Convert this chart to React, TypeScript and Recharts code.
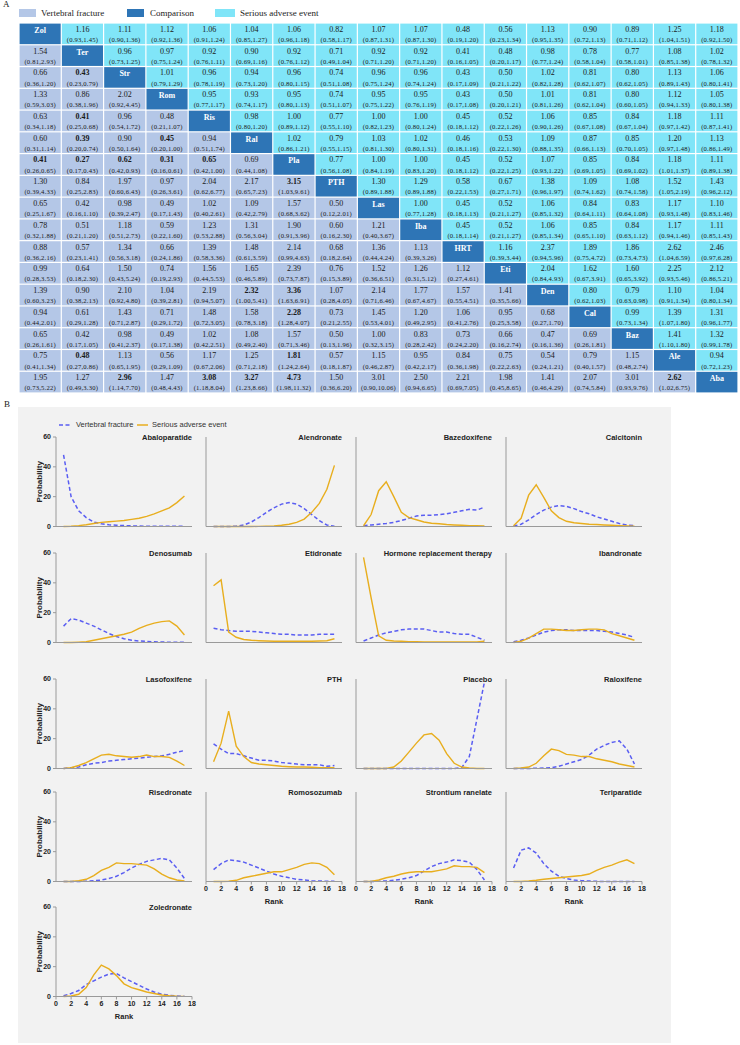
import { LineChart, Line, XAxis, YAxis, ScatterChart, Scatter } from 'recharts';

// ---------- A: league table ----------
const abbrevs = ['Zol', 'Ter', 'Str', 'Rom', 'Ris', 'Ral', 'Pla', 'PTH', 'Las', 'Iba', 'HRT', 'Eti', 'Den', 'Cal', 'Baz', 'Ale', 'Aba'];

const rowZol = ['', '1.16 (0.93,1.45)', '1.11 (0.90,1.36)', '1.12 (0.92,1.36)', '1.06 (0.91,1.24)', '1.04 (0.85,1.27)', '1.06 (0.96,1.18)', '0.82 (0.58,1.17)', '1.07 (0.87,1.31)', '1.07 (0.87,1.30)', '0.48 (0.19,1.20)', '0.56 (0.23,1.34)', '1.13 (0.95,1.35)', '0.90 (0.72,1.13)', '0.89 (0.71,1.12)', '1.25 (1.04,1.51)', '1.18 (0.92,1.50)'];
const rowTer = ['1.54 (0.81,2.93)', '', '0.96 (0.73,1.25)', '0.97 (0.75,1.24)', '0.92 (0.76,1.11)', '0.90 (0.69,1.16)', '0.92 (0.76,1.12)', '0.71 (0.49,1.04)', '0.92 (0.71,1.20)', '0.92 (0.71,1.20)', '0.41 (0.16,1.05)', '0.48 (0.20,1.17)', '0.98 (0.77,1.24)', '0.78 (0.58,1.04)', '0.77 (0.58,1.01)', '1.08 (0.85,1.38)', '1.02 (0.78,1.32)'];
const rowStr = ['0.66 (0.36,1.20)', '0.43 (0.23,0.79)', '', '1.01 (0.79,1.29)', '0.96 (0.78,1.19)', '0.94 (0.73,1.20)', '0.96 (0.80,1.15)', '0.74 (0.51,1.08)', '0.96 (0.75,1.24)', '0.96 (0.74,1.24)', '0.43 (0.17,1.09)', '0.50 (0.21,1.22)', '1.02 (0.82,1.28)', '0.81 (0.62,1.07)', '0.80 (0.62,1.05)', '1.13 (0.89,1.43)', '1.06 (0.80,1.41)'];
const rowRom = ['1.33 (0.59,3.03)', '0.86 (0.38,1.96)', '2.02 (0.92,4.45)', '', '0.95 (0.77,1.17)', '0.93 (0.74,1.17)', '0.95 (0.80,1.13)', '0.74 (0.51,1.07)', '0.95 (0.75,1.22)', '0.95 (0.76,1.19)', '0.43 (0.17,1.08)', '0.50 (0.20,1.21)', '1.01 (0.81,1.26)', '0.81 (0.62,1.04)', '0.80 (0.60,1.05)', '1.12 (0.94,1.33)', '1.05 (0.80,1.38)'];
const rowRis = ['0.63 (0.34,1.18)', '0.41 (0.25,0.68)', '0.96 (0.54,1.72)', '0.48 (0.21,1.07)', '', '0.98 (0.80,1.20)', '1.00 (0.89,1.12)', '0.77 (0.55,1.10)', '1.00 (0.82,1.23)', '1.00 (0.80,1.24)', '0.45 (0.18,1.12)', '0.52 (0.22,1.26)', '1.06 (0.90,1.26)', '0.85 (0.67,1.08)', '0.84 (0.67,1.04)', '1.18 (0.97,1.42)', '1.11 (0.87,1.41)'];
const rowRal = ['0.60 (0.31,1.14)', '0.39 (0.20,0.74)', '0.90 (0.50,1.64)', '0.45 (0.20,1.00)', '0.94 (0.51,1.74)', '', '1.02 (0.86,1.21)', '0.79 (0.55,1.15)', '1.03 (0.81,1.30)', '1.02 (0.80,1.31)', '0.46 (0.18,1.16)', '0.53 (0.22,1.30)', '1.09 (0.88,1.35)', '0.87 (0.66,1.13)', '0.85 (0.70,1.05)', '1.20 (0.97,1.48)', '1.13 (0.86,1.49)'];
const rowPla = ['0.41 (0.26,0.65)', '0.27 (0.17,0.43)', '0.62 (0.42,0.93)', '0.31 (0.16,0.61)', '0.65 (0.42,1.00)', '0.69 (0.44,1.08)', '', '0.77 (0.56,1.08)', '1.00 (0.84,1.19)', '1.00 (0.83,1.20)', '0.45 (0.18,1.12)', '0.52 (0.22,1.25)', '1.07 (0.93,1.22)', '0.85 (0.69,1.05)', '0.84 (0.69,1.02)', '1.18 (1.01,1.37)', '1.11 (0.89,1.38)'];
const rowPTH = ['1.30 (0.39,4.33)', '0.84 (0.25,2.83)', '1.97 (0.60,6.43)', '0.97 (0.26,3.61)', '2.04 (0.62,6.77)', '2.17 (0.65,7.23)', '3.15 (1.03,9.61)', '', '1.30 (0.89,1.88)', '1.29 (0.89,1.88)', '0.58 (0.22,1.53)', '0.67 (0.27,1.71)', '1.38 (0.96,1.97)', '1.09 (0.74,1.62)', '1.08 (0.74,1.58)', '1.52 (1.05,2.19)', '1.43 (0.96,2.12)'];
const rowLas = ['0.65 (0.25,1.67)', '0.42 (0.16,1.10)', '0.98 (0.39,2.47)', '0.49 (0.17,1.43)', '1.02 (0.40,2.61)', '1.09 (0.42,2.79)', '1.57 (0.68,3.62)', '0.50 (0.12,2.01)', '', '1.00 (0.77,1.28)', '0.45 (0.18,1.13)', '0.52 (0.21,1.27)', '1.06 (0.85,1.32)', '0.84 (0.64,1.11)', '0.83 (0.64,1.08)', '1.17 (0.93,1.48)', '1.10 (0.83,1.46)'];
const rowIba = ['0.78 (0.32,1.88)', '0.51 (0.21,1.20)', '1.18 (0.51,2.73)', '0.59 (0.22,1.60)', '1.23 (0.53,2.88)', '1.31 (0.56,3.04)', '1.90 (0.91,3.96)', '0.60 (0.16,2.30)', '1.21 (0.40,3.67)', '', '0.45 (0.18,1.14)', '0.52 (0.21,1.27)', '1.06 (0.85,1.34)', '0.85 (0.65,1.10)', '0.84 (0.63,1.12)', '1.17 (0.94,1.46)', '1.11 (0.85,1.43)'];
const rowHRT = ['0.88 (0.36,2.16)', '0.57 (0.23,1.41)', '1.34 (0.56,3.18)', '0.66 (0.24,1.86)', '1.39 (0.58,3.36)', '1.48 (0.61,3.59)', '2.14 (0.99,4.63)', '0.68 (0.18,2.64)', '1.36 (0.44,4.24)', '1.13 (0.39,3.26)', '', '1.16 (0.39,3.44)', '2.37 (0.94,5.96)', '1.89 (0.75,4.72)', '1.86 (0.73,4.73)', '2.62 (1.04,6.59)', '2.46 (0.97,6.28)'];
const rowEti = ['0.99 (0.28,3.53)', '0.64 (0.18,2.30)', '1.50 (0.43,5.24)', '0.74 (0.19,2.93)', '1.56 (0.44,5.53)', '1.65 (0.46,5.89)', '2.39 (0.73,7.87)', '0.76 (0.15,3.89)', '1.52 (0.36,6.51)', '1.26 (0.31,5.12)', '1.12 (0.27,4.61)', '', '2.04 (0.84,4.93)', '1.62 (0.67,3.91)', '1.60 (0.65,3.92)', '2.25 (0.93,5.46)', '2.12 (0.86,5.21)'];
const rowDen = ['1.39 (0.60,3.23)', '0.90 (0.38,2.13)', '2.10 (0.92,4.80)', '1.04 (0.39,2.81)', '2.19 (0.94,5.07)', '2.32 (1.00,5.41)', '3.36 (1.63,6.91)', '1.07 (0.28,4.05)', '2.14 (0.71,6.46)', '1.77 (0.67,4.67)', '1.57 (0.55,4.51)', '1.41 (0.35,5.66)', '', '0.80 (0.62,1.03)', '0.79 (0.63,0.98)', '1.10 (0.91,1.34)', '1.04 (0.80,1.34)'];
const rowCal = ['0.94 (0.44,2.01)', '0.61 (0.29,1.28)', '1.43 (0.71,2.87)', '0.71 (0.29,1.72)', '1.48 (0.72,3.05)', '1.58 (0.78,3.18)', '2.28 (1.28,4.07)', '0.73 (0.21,2.55)', '1.45 (0.53,4.01)', '1.20 (0.49,2.95)', '1.06 (0.41,2.76)', '0.95 (0.25,3.58)', '0.68 (0.27,1.70)', '', '0.99 (0.73,1.34)', '1.39 (1.07,1.80)', '1.31 (0.96,1.77)'];
const rowBaz = ['0.65 (0.26,1.61)', '0.42 (0.17,1.05)', '0.98 (0.41,2.37)', '0.49 (0.17,1.38)', '1.02 (0.42,2.51)', '1.08 (0.49,2.40)', '1.57 (0.71,3.46)', '0.50 (0.13,1.96)', '1.00 (0.32,3.15)', '0.83 (0.28,2.42)', '0.73 (0.24,2.20)', '0.66 (0.16,2.74)', '0.47 (0.16,1.36)', '0.69 (0.26,1.81)', '', '1.41 (1.10,1.80)', '1.32 (0.99,1.78)'];
const rowAle = ['0.75 (0.41,1.34)', '0.48 (0.27,0.86)', '1.13 (0.65,1.95)', '0.56 (0.29,1.09)', '1.17 (0.67,2.06)', '1.25 (0.71,2.18)', '1.81 (1.24,2.64)', '0.57 (0.18,1.87)', '1.15 (0.46,2.87)', '0.95 (0.42,2.17)', '0.84 (0.36,1.98)', '0.75 (0.22,2.63)', '0.54 (0.24,1.21)', '0.79 (0.40,1.57)', '1.15 (0.48,2.74)', '', '0.94 (0.72,1.23)'];
const rowAba = ['1.95 (0.73,5.22)', '1.27 (0.49,3.30)', '2.96 (1.14,7.70)', '1.47 (0.48,4.43)', '3.08 (1.18,8.04)', '3.27 (1.23,8.66)', '4.73 (1.98,11.32)', '1.50 (0.36,6.20)', '3.01 (0.90,10.06)', '2.50 (0.94,6.65)', '2.21 (0.69,7.05)', '1.98 (0.45,8.65)', '1.41 (0.46,4.29)', '2.07 (0.74,5.84)', '3.01 (0.93,9.76)', '2.62 (1.02,6.75)', ''];

const tableRows = [rowZol, rowTer, rowStr, rowRom, rowRis, rowRal, rowPla, rowPTH, rowLas, rowIba, rowHRT, rowEti, rowDen, rowCal, rowBaz, rowAle, rowAba];

// ---------- B: rank probabilities ----------
const ranks = [1, 2, 3, 4, 5, 6, 7, 8, 9, 10, 11, 12, 13, 14, 15, 16, 17];
const rankTicks = [0, 2, 4, 6, 8, 10, 12, 14, 16, 18];
const probTicks = [0, 20, 40, 60];

const abaVF = [48, 20, 10.5, 6, 3, 1.8, 1.2, 0.8, 0.6, 0.4, 0.3, 0.2, 0.2, 0.1, 0.1, 0.1, 0.1];
const abaSAE = [0, 0.2, 0.6, 1.2, 2, 2.8, 3.2, 3.6, 4, 4.8, 5.5, 6.8, 8.5, 10.5, 12.5, 16, 20.5];
const aleVF = [0, 0, 0, 0.2, 1, 3, 6, 9.5, 12.5, 15, 16, 15, 12, 8, 4, 1, 0.2];
const aleSAE = [0, 0, 0, 0, 0, 0, 0.1, 0.2, 0.4, 0.8, 1.5, 2.8, 5, 9.5, 15.5, 25, 41];
const bazVF = [0.5, 1, 1.5, 2, 2.8, 4, 5.5, 7, 7.5, 7.5, 8, 8.5, 9.5, 10.5, 11.5, 11, 13];
const bazSAE = [0.5, 8, 24, 30, 20, 9.5, 6, 4.5, 3, 2.2, 1.8, 1.3, 1, 0.8, 0.6, 0.5, 0.3];
const calVF = [0.3, 1.5, 4.5, 8, 11, 13, 14, 13.5, 12, 10, 8.5, 6.5, 5, 3.5, 2, 1, 0.5];
const calSAE = [0.5, 5.5, 21, 28, 19.5, 10.5, 6, 3.5, 2.5, 2, 1.5, 1.3, 1, 0.8, 0.5, 0.3, 0.2];
const denVF = [11, 16, 15, 13, 11, 8.5, 6, 4, 2.5, 1.5, 1, 0.7, 0.5, 0.3, 0.2, 0.1, 0.1];
const denSAE = [0, 0, 0.2, 0.5, 1.5, 2.5, 3.5, 4.5, 5.5, 7, 9.5, 11.5, 13, 14, 14.5, 11, 5];
const etiVF = [9.5, 8.5, 8, 7.5, 7.5, 7.5, 7, 6.5, 6, 5.5, 5.5, 5, 5, 5, 5.5, 5.5, 5.5];
const etiSAE = [38, 42, 7, 3.5, 2, 1.5, 1.2, 1, 0.8, 0.8, 0.8, 0.8, 0.8, 0.8, 1, 1.2, 2.5];
const hrtVF = [1, 3, 5, 6.5, 7.5, 8.5, 9, 9, 9, 8, 7, 7, 6, 5.5, 5.5, 3.5, 1.5];
const hrtSAE = [57, 30, 4.5, 1.5, 1, 0.8, 0.6, 0.5, 0.4, 0.3, 0.3, 0.3, 0.3, 0.3, 0.3, 0.3, 0.8];
const ibaVF = [0.5, 1.5, 3, 5, 7, 8, 8.5, 8.5, 8, 8, 8, 8, 7.5, 7, 6, 5, 3.5];
const ibaSAE = [0, 0.8, 3, 6, 9, 9, 8.5, 8, 8, 8.5, 9, 9, 8.5, 6, 4.5, 3, 1.5];
const lasVF = [0, 0.5, 1, 2.5, 3.5, 4, 5, 5.5, 6, 6.5, 7, 7.5, 8, 8.5, 9.5, 11, 12];
const lasSAE = [0, 0.5, 2, 4, 6.5, 9, 9.5, 8.5, 8, 7.5, 8, 9, 8, 8, 7.5, 5, 2];
const pthVF = [16.5, 13, 10, 10, 8.5, 7, 5.5, 5.5, 5, 4, 3.5, 3, 2.5, 2.5, 2.5, 1.5, 2];
const pthSAE = [4.5, 17, 38.5, 15, 8, 4, 3, 2.5, 2, 1.5, 1.2, 1, 1, 0.8, 0.6, 0.5, 0.5];
const plaVF = [0, 0, 0, 0, 0, 0, 0, 0, 0, 0, 0, 0, 0, 0.7, 8, 33, 58];
const plaSAE = [0, 0, 0, 0, 1, 5, 11, 17, 22.5, 23.5, 19, 10, 3.5, 1, 0.3, 0, 0];
const ralVF = [0, 0, 0, 0.2, 0.3, 0.5, 1.5, 3, 4.5, 6, 9, 13, 15.5, 17.5, 18.5, 13, 3];
const ralSAE = [0, 0.3, 1, 3.5, 8.5, 13, 12, 9.5, 9, 8, 8, 6.5, 5.5, 4.5, 3, 2, 1];
const risVF = [0, 0, 0, 0.2, 0.5, 1, 2, 3.5, 6, 9, 11.5, 13.5, 14.5, 15.5, 14.5, 9, 2];
const risSAE = [0, 0, 0.5, 1.5, 4, 7.5, 9.5, 12.5, 12, 12, 11.5, 11, 8.5, 5, 2.5, 1, 0.3];
const romVF = [8, 12, 14.5, 14, 13, 11, 9, 7, 5, 3.5, 2.5, 1.5, 1, 0.5, 0.3, 0.2, 0.1];
const romSAE = [0, 0, 0.2, 0.8, 2.5, 3.5, 4.5, 5.5, 6.5, 6.5, 8, 9.5, 11.5, 12.5, 12, 9.5, 4.5];
const strVF = [0, 0, 0.2, 0.3, 0.8, 1.5, 2.5, 4, 7, 10, 12, 13, 14.5, 14, 13, 8, 1];
const strSAE = [0, 0, 1, 2.5, 3.5, 5, 6, 6.5, 6.5, 6.5, 7.5, 8.5, 10.5, 10, 10, 9.5, 6];
const terVF = [9, 21, 22.5, 19, 12, 7, 3.5, 2, 1, 0.5, 0.3, 0.1, 0, 0, 0, 0, 0];
const terSAE = [0, 0, 0.3, 0.8, 1.5, 2, 2.5, 3, 3.5, 4, 5, 7.5, 9.5, 11, 13, 14.5, 12];
const zolVF = [0.5, 2, 4, 8, 10.5, 13, 15, 15.5, 12.5, 10, 7.5, 5, 3, 1.5, 0.8, 0.3, 0.1];
const zolSAE = [0, 0.3, 1.5, 6, 14.5, 21, 18.5, 14, 8.5, 6, 4.5, 3, 2, 1, 0.5, 0.2, 0.1];

const panels = [
    { title: 'Abaloparatide', vf: abaVF, sae: abaSAE },
    { title: 'Alendronate', vf: aleVF, sae: aleSAE },
    { title: 'Bazedoxifene', vf: bazVF, sae: bazSAE },
    { title: 'Calcitonin', vf: calVF, sae: calSAE },
    { title: 'Denosumab', vf: denVF, sae: denSAE },
    { title: 'Etidronate', vf: etiVF, sae: etiSAE },
    { title: 'Hormone replacement therapy', vf: hrtVF, sae: hrtSAE },
    { title: 'Ibandronate', vf: ibaVF, sae: ibaSAE },
    { title: 'Lasofoxifene', vf: lasVF, sae: lasSAE },
    { title: 'PTH', vf: pthVF, sae: pthSAE },
    { title: 'Placebo', vf: plaVF, sae: plaSAE },
    { title: 'Raloxifene', vf: ralVF, sae: ralSAE },
    { title: 'Risedronate', vf: risVF, sae: risSAE },
    { title: 'Romosozumab', vf: romVF, sae: romSAE },
    { title: 'Strontium ranelate', vf: strVF, sae: strSAE },
    { title: 'Teriparatide', vf: terVF, sae: terSAE },
    { title: 'Zoledronate', vf: zolVF, sae: zolSAE },
];

const SERIF = '"Liberation Serif", "Times New Roman", serif';
const SANS = '"Liberation Sans", Arial, sans-serif';
const LAVENDER = '#b4c7e7';
const CYAN = '#80e5f8';
const DIAG = '#2e75b6';
const VF_COLOR = '#5a5ef2';
const SAE_COLOR = '#e8ae1e';
const AXIS = '#9a9a9a';

const TABLE_W = 719;
const TABLE_H = 370;
const CELL_W = TABLE_W / 17;
const CELL_H = TABLE_H / 17;

const cellData = tableRows.flatMap((cells, row) => cells.map((text, col) => ({ row, col, text })));

function MatrixCell(props: any) {
    const { cx, cy, payload } = props;
    if (cx == null || cy == null || !payload) return null;
    const { row, col, text } = payload;
    const x = cx - CELL_W / 2 + 0.6;
    const y = cy - CELL_H / 2 + 0.6;
    const w = CELL_W - 1.2;
    const h = CELL_H - 1.2;
    if (row === col) {
        return (
            <g>
                <rect x={x} y={y} width={w} height={h} fill={DIAG} />
                <text x={cx} y={cy - 1} textAnchor="middle" fontSize={8} fontWeight="bold" fill="#fff" fontFamily={SERIF}>
                    {abbrevs[row]}
                </text>
            </g>
        );
    }
    const [est, ci] = text.split(' ');
    const [lo, hi] = ci.replace(/[()]/g, '').split(',').map(Number);
    const upper = col > row;
    // significant vertebral-fracture comparisons are set in bold
    const bold = !upper && (lo >= 1 || hi <= 1);
    return (
        <g>
            <rect x={x} y={y} width={w} height={h} fill={upper ? CYAN : LAVENDER} />
            <text x={cx} y={cy - 2} textAnchor="middle" fontSize={8} fontWeight={bold ? 'bold' : 'normal'} fill="#1a1a1a" fontFamily={SERIF}>
                {est}
            </text>
            <text x={cx} y={cy + 8.2} textAnchor="middle" fontSize={6.6} fill="#1a1a1a" fontFamily={SERIF} letterSpacing={0.2}>
                {ci}
            </text>
        </g>
    );
}

function LeagueTable() {
    return (
        <div style={{ position: 'absolute', left: 19, top: 23 }}>
            <ScatterChart width={TABLE_W} height={TABLE_H} margin={{ top: 0, right: 0, bottom: 0, left: 0 }}>
                <XAxis dataKey="col" type="number" domain={[-0.5, 16.5]} hide />
                <YAxis dataKey="row" type="number" domain={[-0.5, 16.5]} reversed hide />
                <Scatter data={cellData} isAnimationActive={false} shape={(p: any) => <MatrixCell {...p} />} />
            </ScatterChart>
        </div>
    );
}

const panelLefts = [56, 206, 356, 506];
const panelTops = [437, 553, 679, 792, 907];
const PLOT_W = 136;
const PLOT_H = 89.5;

function RankPanel({ index }: { index: number }) {
    const { title, vf, sae } = panels[index];
    const col = index % 4;
    const row = Math.floor(index / 4);
    const showX = index >= 13;
    const showY = col === 0;
    const data = ranks.map((rank, i) => ({ rank, vf: vf[i], sae: sae[i] }));
    const left = panelLefts[col];
    const top = panelTops[row];
    const tickStyle = { fontSize: 7, fontWeight: 'bold', fill: '#222', fontFamily: SANS };
    return (
        <>
            <div style={{ position: 'absolute', left: left - 30, top: top - 8 }}>
                <LineChart width={30 + PLOT_W + 6} height={8 + PLOT_H + 30} data={data} margin={{ top: 8, right: 6, bottom: 0, left: 0 }}>
                    <XAxis
                        dataKey="rank"
                        type="number"
                        domain={[0, 18]}
                        ticks={rankTicks}
                        height={30}
                        tickSize={3}
                        stroke={AXIS}
                        tick={showX ? tickStyle : false}
                        label={showX ? { value: 'Rank', position: 'insideBottom', offset: 8, style: { fontSize: 7.5, fontWeight: 'bold', fill: '#222', fontFamily: SANS } } : undefined}
                    />
                    <YAxis
                        type="number"
                        domain={[0, 60]}
                        ticks={probTicks}
                        width={30}
                        tickSize={3}
                        stroke={AXIS}
                        tick={showY ? tickStyle : false}
                        label={showY ? { value: 'Probability', angle: -90, position: 'insideLeft', offset: 13, style: { textAnchor: 'middle', fontSize: 8, fontWeight: 'bold', fill: '#222', fontFamily: SANS } } : undefined}
                    />
                    <Line type="linear" dataKey="vf" stroke={VF_COLOR} strokeWidth={1.5} strokeDasharray="4 2.5" dot={false} isAnimationActive={false} />
                    <Line type="linear" dataKey="sae" stroke={SAE_COLOR} strokeWidth={1.4} dot={false} isAnimationActive={false} />
                </LineChart>
            </div>
            <div style={{ position: 'absolute', left: left, width: PLOT_W, top: top - 4, textAlign: 'right', fontFamily: SANS, fontSize: 7.5, fontWeight: 'bold', lineHeight: '9px', color: '#222', whiteSpace: 'nowrap' }}>
                {title}
            </div>
        </>
    );
}

export default function App() {
    const legendText = { position: 'absolute' as const, fontFamily: SERIF, fontSize: 9, lineHeight: '10px', color: '#222', whiteSpace: 'nowrap' as const };
    return (
        <div style={{ position: 'absolute', left: 0, top: 0, width: 740, height: 1045, background: '#fff', overflow: 'hidden' }}>
            <div style={{ ...legendText, left: 3, top: -1 }}>A</div>
            <div style={{ position: 'absolute', left: 19, top: 9, width: 17, height: 8, background: LAVENDER }} />
            <div style={{ ...legendText, left: 41, top: 8 }}>Vertebral fracture</div>
            <div style={{ position: 'absolute', left: 127, top: 9, width: 17, height: 8, background: DIAG }} />
            <div style={{ ...legendText, left: 150, top: 8 }}>Comparison</div>
            <div style={{ position: 'absolute', left: 215, top: 9, width: 20, height: 8, background: CYAN }} />
            <div style={{ ...legendText, left: 240, top: 8 }}>Serious adverse event</div>

            <LeagueTable />

            <div style={{ ...legendText, left: 4, top: 399 }}>B</div>
            <div style={{ position: 'absolute', left: 18, top: 407, width: 653, height: 636, background: '#f2f2f2' }} />

            <svg style={{ position: 'absolute', left: 0, top: 0 }} width={740} height={440}>
                <line x1={59} x2={72} y1={425} y2={425} stroke={VF_COLOR} strokeWidth={1.5} strokeDasharray="4 2.5" />
                <line x1={137} x2={148} y1={425} y2={425} stroke={SAE_COLOR} strokeWidth={1.5} />
            </svg>
            <div style={{ position: 'absolute', left: 76, top: 420, fontFamily: SANS, fontSize: 7.5, lineHeight: '10px', color: '#333', whiteSpace: 'nowrap' }}>Vertebral fracture</div>
            <div style={{ position: 'absolute', left: 152, top: 420, fontFamily: SANS, fontSize: 7.5, lineHeight: '10px', color: '#333', whiteSpace: 'nowrap' }}>Serious adverse event</div>

            {panels.map((_, i) => (
                <RankPanel key={i} index={i} />
            ))}
        </div>
    );
}
